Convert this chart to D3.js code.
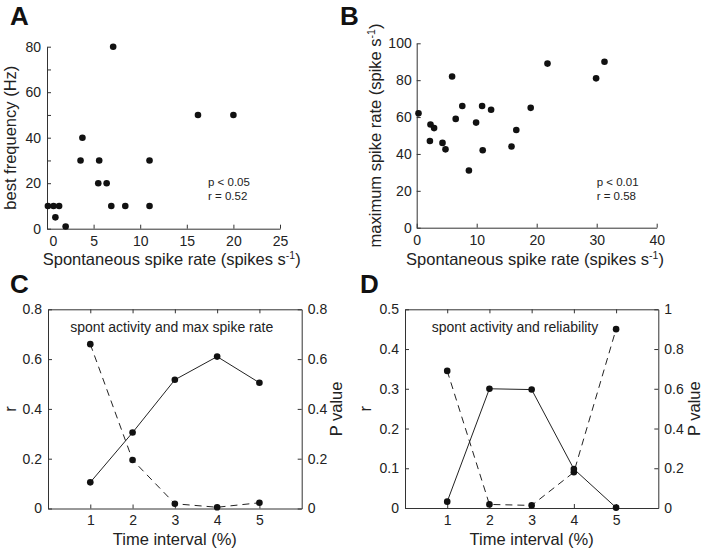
<!DOCTYPE html>
<html>
<head>
<meta charset="utf-8">
<script src="https://cdnjs.cloudflare.com/ajax/libs/d3/7.8.5/d3.min.js"></script>
<style>
  body { margin: 0; background: #fff; }
  svg { display: block; font-family: "Liberation Sans", Arial, Helvetica, sans-serif; }
  .axis path, .axis line { stroke: #333; stroke-width: 1; }
  .axis text { fill: #222; font-size: 14px; font-family: "Liberation Sans", Arial, sans-serif; }
</style>
</head>
<body>
<div id="main-vis"></div>
<script>
// panel A: spontaneous rate vs best frequency
var spontA = [0.1, 0.7, 1.3, 0.9, 2.0, 3.6, 3.8, 5.6, 5.5, 6.4, 6.9, 8.4, 11.0, 11.0, 7.1, 16.2, 20.0];
var bestFreq = [10, 10, 10, 5, 1, 30, 40, 30, 20, 20, 10, 10, 30, 10, 80, 50, 50];

// panel B: spontaneous rate vs maximum spike rate
var spontB = [0.3, 5.9, 2.3, 2.9, 6.5, 7.6, 9.9, 10.9, 12.4, 16.6, 19.0, 21.8, 31.3, 29.9, 2.2, 4.3, 4.8, 8.7, 11.0, 15.8];
var maxRate = [62, 82, 56, 54, 59, 66, 57, 66, 64, 53, 65, 89, 90, 81, 47, 46, 42.5, 31, 42, 44];

// panels C and D: r and P value per time interval
var intervals = [1, 2, 3, 4, 5];
var rC = [0.105, 0.305, 0.517, 0.61, 0.505];
var pC = [0.66, 0.195, 0.019, 0.005, 0.023];
var rD = [0.016, 0.30, 0.298, 0.098, 0.001];
var pD = [0.69, 0.018, 0.013, 0.18, 0.9];

var width = 705, height = 551;
var svg = d3.select("#main-vis").append("svg")
  .attr("width", width)
  .attr("height", height);

var dotR = 3.3;

function panelLetter(txt, x, y) {
  svg.append("text").attr("x", x).attr("y", y)
    .attr("font-size", 26).attr("font-weight", "bold").attr("fill", "#111")
    .text(txt);
}

function xTitle(x, y) {
  var t = svg.append("text").attr("x", x).attr("y", y)
    .attr("text-anchor", "middle").attr("font-size", 16.5).attr("fill", "#222");
  return t;
}

function yTitle(x, y, txt) {
  return svg.append("text")
    .attr("transform", "translate(" + x + "," + y + ") rotate(-90)")
    .attr("text-anchor", "middle").attr("font-size", 16.5).attr("fill", "#222")
    .text(txt);
}

function spikeLabel(t, word) {
  t.append("tspan").text("Spontaneous spike rate (" + word + " s");
  t.append("tspan").attr("font-size", 10.5).attr("dy", -6).text("-1");
  t.append("tspan").attr("dy", 6).text(")");
}

// ---------- A ----------
var xA = d3.scaleLinear().domain([0, 25]).range([47, 280]);
var yA = d3.scaleLinear().domain([0, 80]).range([228.7, 46.7]);

svg.append("g").attr("class", "axis")
  .attr("transform", "translate(0," + yA(0) + ")")
  .call(d3.axisBottom(xA).tickValues([0, 5, 10, 15, 20, 25])
    .tickSizeInner(-4).tickSizeOuter(0).tickPadding(7))
  .selectAll(".tick text").attr("dx", function (d) { return d === 0 ? 6 : 0; });
svg.append("g").attr("class", "axis")
  .attr("transform", "translate(" + xA(0) + ",0)")
  .call(d3.axisLeft(yA).tickValues(d3.range(0, 81, 10))
    .tickFormat(function (d) { return d % 20 === 0 ? d : ""; })
    .tickSizeInner(-4).tickSizeOuter(0).tickPadding(6));

svg.append("g").selectAll("circle")
  .data(spontA)
  .enter().append("circle")
  .attr("cx", function (d) { return xA(d); })
  .attr("cy", function (d, i) { return yA(bestFreq[i]); })
  .attr("r", dotR).attr("fill", "#111");

svg.append("text").attr("x", 208).attr("y", 186).attr("font-size", 11.5).attr("fill", "#222").text("p < 0.05");
svg.append("text").attr("x", 208).attr("y", 200).attr("font-size", 11.5).attr("fill", "#222").text("r = 0.52");

spikeLabel(xTitle(171.7, 265), "spikes");
yTitle(16, 137.7, "best frequency (Hz)");
panelLetter("A", 10, 25);

// ---------- B ----------
var xB = d3.scaleLinear().domain([0, 40]).range([416.7, 656.7]);
var yB = d3.scaleLinear().domain([0, 100]).range([227.7, 43.3]);

svg.append("g").attr("class", "axis")
  .attr("transform", "translate(0," + yB(0) + ")")
  .call(d3.axisBottom(xB).ticks(4).tickSizeInner(-4).tickSizeOuter(0).tickPadding(7));
svg.append("g").attr("class", "axis")
  .attr("transform", "translate(" + xB(0) + ",0)")
  .call(d3.axisLeft(yB).ticks(5).tickSizeInner(-4).tickSizeOuter(0).tickPadding(5));

svg.append("g").selectAll("circle")
  .data(spontB)
  .enter().append("circle")
  .attr("cx", function (d) { return xB(d); })
  .attr("cy", function (d, i) { return yB(maxRate[i]); })
  .attr("r", dotR).attr("fill", "#111");

svg.append("text").attr("x", 596.7).attr("y", 186).attr("font-size", 11.5).attr("fill", "#222").text("p < 0.01");
svg.append("text").attr("x", 596.7).attr("y", 200).attr("font-size", 11.5).attr("fill", "#222").text("r = 0.58");

spikeLabel(xTitle(535, 265), "spikes");
var tB = svg.append("text")
  .attr("transform", "translate(381,135.5) rotate(-90)")
  .attr("text-anchor", "middle").attr("font-size", 16.5).attr("fill", "#222");
tB.append("tspan").text("maximum spike rate (spike s");
tB.append("tspan").attr("font-size", 10.5).attr("dy", -6).text("-1");
tB.append("tspan").attr("dy", 6).text(")");
panelLetter("B", 340, 25);

// ---------- C and D ----------
function linePanel(cfg) {
  var x = d3.scaleLinear().domain([0, 6]).range([cfg.x0, cfg.x1]);
  var yL = d3.scaleLinear().domain([0, cfg.rMax]).range([cfg.y0, cfg.y1]);
  var yR = d3.scaleLinear().domain([0, cfg.pMax]).range([cfg.y0, cfg.y1]);

  svg.append("g").attr("class", "axis")
    .attr("transform", "translate(0," + cfg.y0 + ")")
    .call(d3.axisBottom(x).tickValues(intervals).tickFormat(d3.format("d"))
      .tickSizeInner(-4).tickSizeOuter(0).tickPadding(7));
  svg.append("g").attr("class", "axis")
    .attr("transform", "translate(0," + cfg.y1 + ")")
    .call(d3.axisTop(x).tickValues(intervals).tickFormat("").tickSizeInner(-4).tickSizeOuter(0));
  svg.append("g").attr("class", "axis")
    .attr("transform", "translate(" + cfg.x0 + ",0)")
    .call(d3.axisLeft(yL).ticks(5).tickFormat(function (d) { return d === 0 ? "0" : d3.format(".1f")(d); })
      .tickSizeInner(-4).tickSizeOuter(0).tickPadding(6));
  svg.append("g").attr("class", "axis")
    .attr("transform", "translate(" + cfg.x1 + ",0)")
    .call(d3.axisRight(yR).ticks(cfg.pTicks).tickFormat(function (d) { return (d === 0 || d === 1) ? d : d3.format(".1f")(d); })
      .tickSizeInner(-4).tickSizeOuter(0).tickPadding(6));

  var lineP = d3.line()
    .x(function (d) { return x(d); })
    .y(function (d, i) { return yR(cfg.p[i]); });
  var lineR = d3.line()
    .x(function (d) { return x(d); })
    .y(function (d, i) { return yL(cfg.r[i]); });

  svg.append("path").datum(intervals).attr("d", lineP)
    .attr("fill", "none").attr("stroke", "#222").attr("stroke-width", 1)
    .attr("stroke-dasharray", "7,5");
  svg.append("path").datum(intervals).attr("d", lineR)
    .attr("fill", "none").attr("stroke", "#222").attr("stroke-width", 1);

  svg.append("g").selectAll("circle")
    .data(intervals)
    .enter().append("circle")
    .attr("cx", function (d) { return x(d); })
    .attr("cy", function (d, i) { return yR(cfg.p[i]); })
    .attr("r", dotR).attr("fill", "#111");
  svg.append("g").selectAll("circle")
    .data(intervals)
    .enter().append("circle")
    .attr("cx", function (d) { return x(d); })
    .attr("cy", function (d, i) { return yL(cfg.r[i]); })
    .attr("r", dotR).attr("fill", "#111");

  svg.append("text").attr("x", cfg.titleX).attr("y", 332)
    .attr("text-anchor", "middle").attr("font-size", 14).attr("fill", "#222")
    .text(cfg.title);

  xTitle((cfg.x0 + cfg.x1) / 2, 545).text("Time interval (%)");
  yTitle(cfg.rLabelX, (cfg.y0 + cfg.y1) / 2, "r");
  yTitle(cfg.pLabelX, (cfg.y0 + cfg.y1) / 2, "P value");
  panelLetter(cfg.letter, cfg.letterX, 293);
}

linePanel({
  letter: "C", letterX: 10,
  x0: 48, x1: 301.7, y0: 508.5, y1: 309.3,
  rMax: 0.8, pMax: 0.8, pTicks: 5,
  r: rC, p: pC,
  title: "spont activity and max spike rate", titleX: 171.7,
  rLabelX: 16, pLabelX: 342
});

linePanel({
  letter: "D", letterX: 360,
  x0: 405, x1: 658.3, y0: 508, y1: 309.3,
  rMax: 0.5, pMax: 1, pTicks: 5,
  r: rD, p: pD,
  title: "spont activity and reliability", titleX: 515,
  rLabelX: 371, pLabelX: 700
});
</script>
</body>
</html>
